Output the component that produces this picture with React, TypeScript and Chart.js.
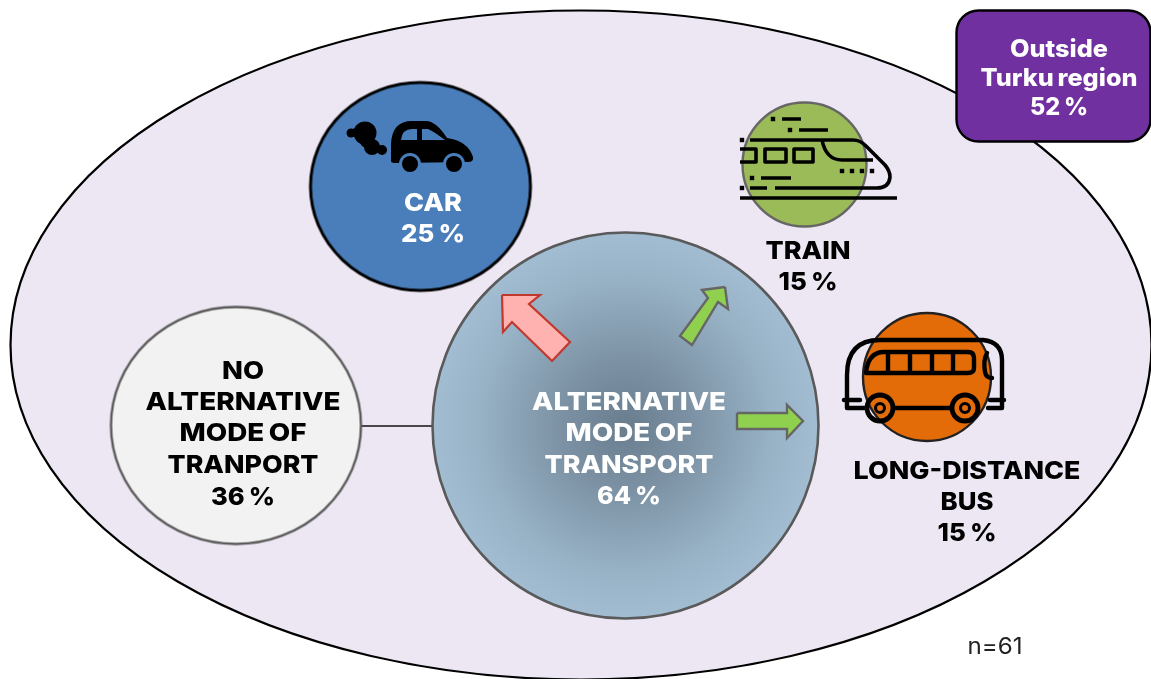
import React, { useEffect, useRef } from "react";
import { Chart, registerables } from "chart.js";

Chart.register(...registerables);

// ---- content
const modeNames = ["CAR", "TRAIN", "LONG-DISTANCE BUS"];
const modeShares = [25, 15, 15];
const alternativeShare = 64;
const noAlternativeShare = 36;
const outsideShare = 52;
const sampleSize = 61;

// ---- bubble centres and radii, in axis units
const bubbleIds = ["car", "train", "bus", "alternative", "none"];
const bubbleX = [420.5, 804.5, 927, 625.5, 236];
const bubbleY = [186.5, 164.5, 377, 425.5, 425.5];
const bubbleR = [110, 62, 64, 193, 125];
const bubbleSquash = [104 / 110, 1, 1, 1, 118.5 / 125];

// ---- arrows and connector, in axis units
const arrowCar = [
  [502, 295], [540, 295], [529, 304], [570, 342], [552, 361], [512, 322], [503, 332], [502, 295],
];
const arrowTrain = [
  [725, 287], [728, 309], [718, 302], [692, 345], [680, 336], [708, 298], [702, 290], [725, 287],
];
const arrowBus = [
  [737, 413], [787, 413], [787, 405], [803, 421], [787, 438], [787, 429], [737, 429], [737, 413],
];
const connector = [[361, 426], [432, 426]];

const toXY = (pts: number[][]) => pts.map(([x, y]) => ({ x, y }));

const INK = "#000000";
const FONT = "Inter, 'Open Sans', sans-serif";

type T = { t: string; x: number; y: number; w: number; c: string; s: number; wt?: number };
const W = "#ffffff";
const textRows: T[] = [
  { t: modeNames[0], x: 433, y: 202, w: 58, c: W, s: 25 },
  { t: `${modeShares[0]} %`, x: 433, y: 233, w: 64, c: W, s: 25 },
  { t: "ALTERNATIVE", x: 629, y: 401, w: 194, c: W, s: 25 },
  { t: "MODE OF", x: 629, y: 432, w: 127, c: W, s: 25 },
  { t: "TRANSPORT", x: 629, y: 464, w: 169, c: W, s: 25 },
  { t: `${alternativeShare} %`, x: 629, y: 495, w: 64, c: W, s: 25 },
  { t: "NO", x: 243, y: 370, w: 42, c: INK, s: 25 },
  { t: "ALTERNATIVE", x: 243, y: 401, w: 195, c: INK, s: 25 },
  { t: "MODE OF", x: 243, y: 432, w: 127, c: INK, s: 25 },
  { t: "TRANPORT", x: 243, y: 464, w: 151, c: INK, s: 25 },
  { t: `${noAlternativeShare} %`, x: 243, y: 496, w: 64, c: INK, s: 25 },
  { t: modeNames[1], x: 808, y: 250, w: 85, c: INK, s: 25 },
  { t: `${modeShares[1]} %`, x: 808, y: 281, w: 59, c: INK, s: 25 },
  { t: "LONG-DISTANCE", x: 967, y: 470, w: 227, c: INK, s: 25 },
  { t: "BUS", x: 967, y: 501, w: 53, c: INK, s: 25 },
  { t: `${modeShares[2]} %`, x: 967, y: 532, w: 59, c: INK, s: 25 },
  { t: "Outside", x: 1059, y: 49, w: 98, c: W, s: 24 },
  { t: "Turku region", x: 1059, y: 78, w: 157, c: W, s: 24 },
  { t: `${outsideShare} %`, x: 1059, y: 107, w: 58, c: W, s: 24 },
  { t: `n=${sampleSize}`, x: 995, y: 646, w: 55, c: "#222222", s: 23, wt: 400 },
];

function drawCar(c: CanvasRenderingContext2D) {
  const blue = "#4a7ebb";
  c.fillStyle = INK;
  for (const [x, y, r] of [[351, 133, 4.5], [356, 132, 4], [365, 133, 11.5], [372, 147, 8], [367, 141, 7], [382, 150, 5]]) {
    c.beginPath(); c.arc(x, y, r, 0, Math.PI * 2); c.fill();
  }
  const b = new Path2D("M391 161 L391 144 Q392 121 412 121 L426 121 Q436 121 447 138 Q468 141 473 157 Q474 162 468 162 L396 163 Q391 163 391 161 Z");
  c.fill(b);
  c.fillStyle = blue;
  c.fill(new Path2D("M401 140 Q402 129 412 129 L417 129 L417 140 Z"));
  c.fill(new Path2D("M422 129 L428 129 Q433 131 445 140 L422 140 Z"));
  for (const x of [410, 454]) {
    c.fillStyle = blue; c.beginPath(); c.arc(x, 164, 11, 0, Math.PI * 2); c.fill();
    c.fillStyle = INK; c.beginPath(); c.arc(x, 164, 8, 0, Math.PI * 2); c.fill();
  }
}

function drawTrain(c: CanvasRenderingContext2D) {
  c.strokeStyle = INK; c.fillStyle = INK; c.lineWidth = 3.6; c.lineCap = "butt"; c.lineJoin = "round";
  c.stroke(new Path2D(
    "M782 119 H801 M799 130 H828 M750 140 H853 Q860 140 866 146 L885 165 Q890 171 890 177 Q889 188 877 188 H775 " +
    "M750 188 H767 M822 140 Q826 160 842 160 H873 M740 149 H756 V162 H740 M765 149 H786 V162 H765 Z M794 149 H813 V162 H794 Z " +
    "M761 178 H791 M740 198 H897"
  ));
  for (const [x, y] of [[773, 119], [790, 130], [742, 140], [842, 171], [852, 171], [862, 171], [872, 171], [752, 178], [742, 188]]) {
    c.fillRect(x - 2.2, y - 2.2, 4.4, 4.4);
  }
}

function drawBus(c: CanvasRenderingContext2D) {
  c.strokeStyle = INK; c.lineWidth = 4.4; c.lineJoin = "round"; c.lineCap = "round";
  c.stroke(new Path2D(
    "M847 400 V375 Q847 340 880 340 H983 Q1002 342 1002 360 V408 H988 M847 400 V408 H864 M844 400 H860 M990 400 H1004 " +
    "M866 373 Q868 352 884 352 H968 Q974 352 974 358 V368 Q974 373 968 373 H866 Z " +
    "M888 352 V373 M910 352 V373 M932 352 V373 M953 352 V373 " +
    "M987 353 Q983 360 985 372 Q986 378 992 378 M895 408 H950"
  ));
  for (const x of [880, 965]) {
    c.lineWidth = 4.8; c.beginPath(); c.arc(x, 408, 13, 0, Math.PI * 2); c.stroke();
    c.lineWidth = 3; c.beginPath(); c.arc(x, 408, 4.5, 0, Math.PI * 2); c.stroke();
  }
}

// Ellipse-shaped point style for the slightly squashed bubbles.
function ellipseSprite(rx: number, ry: number, fill: string, stroke: string, lw: number) {
  const s = document.createElement("canvas");
  s.width = Math.ceil(rx * 2 + lw * 2 + 2);
  s.height = Math.ceil(ry * 2 + lw * 2 + 2);
  const c = s.getContext("2d")!;
  c.beginPath();
  c.ellipse(s.width / 2, s.height / 2, rx, ry, 0, 0, Math.PI * 2);
  c.fillStyle = fill; c.fill();
  c.strokeStyle = stroke; c.lineWidth = lw; c.stroke();
  return s;
}

const scenePlugin = {
  id: "scene",
  beforeDatasetsDraw(chart: any) {
    const c: CanvasRenderingContext2D = chart.ctx;
    const { x, y } = chart.scales;
    c.save();
    c.beginPath();
    c.ellipse(x.getPixelForValue(581), y.getPixelForValue(345), 570.5, 334.5, 0, 0, Math.PI * 2);
    c.fillStyle = "#ede7f3"; c.fill();
    c.strokeStyle = INK; c.lineWidth = 2.2; c.stroke();
    c.restore();
  },
  afterDatasetsDraw(chart: any) {
    const c: any = chart.ctx;
    const { x, y } = chart.scales;
    c.save();
    drawCar(c);
    drawTrain(c);
    drawBus(c);
    c.beginPath();
    c.roundRect(x.getPixelForValue(956.5), y.getPixelForValue(10.5), 194, 131, 22);
    c.fillStyle = "#7030a0"; c.fill();
    c.strokeStyle = INK; c.lineWidth = 2.4; c.stroke();
    c.textAlign = "center"; c.textBaseline = "middle";
    for (const r of textRows) {
      c.font = `${r.wt ?? 800} ${r.s}px ${FONT}`;
      c.wordSpacing = r.wt ? "0px" : "-1.5px";
      const m = c.measureText(r.t).width;
      c.save();
      c.translate(x.getPixelForValue(r.x), y.getPixelForValue(r.y));
      c.scale(r.w / m, 1);
      c.fillStyle = r.c;
      c.fillText(r.t, 0, 1);
      c.restore();
    }
    c.restore();
  },
};

export default function App() {
  const ref = useRef<HTMLCanvasElement>(null);
  useEffect(() => {
    document.body.style.margin = "0";
    const canvas = ref.current!;
    const ctx = canvas.getContext("2d")!;
    const grad = ctx.createRadialGradient(625.5, 425.5, 0, 625.5, 425.5, 193);
    grad.addColorStop(0, "#687e8f");
    grad.addColorStop(0.35, "#7d93a5");
    grad.addColorStop(0.75, "#97b1c5");
    grad.addColorStop(1, "#a2bdd2");
    const fills: any[] = ["#4a7ebb", "#9bbb59", "#e36c09", grad, "#f2f2f2"];
    const strokes = [INK, "#666666", "#222222", "#5a5a5a", "#595959"];
    const widths = [3, 2.4, 2.4, 2.6, 2.4];
    const bubble = (i: number) => ({
      type: "bubble" as const,
      label: bubbleIds[i],
      data: [{ x: bubbleX[i], y: bubbleY[i], r: bubbleR[i] }],
      backgroundColor: fills[i],
      borderColor: strokes[i],
      borderWidth: widths[i],
      pointStyle:
        bubbleSquash[i] === 1
          ? "circle"
          : ellipseSprite(bubbleR[i], bubbleR[i] * bubbleSquash[i], fills[i], strokes[i], widths[i]),
      order: 2,
      clip: false,
    });
    const poly = (label: string, pts: number[][], fill: string, stroke: string, lw: number) => ({
      type: "scatter" as const,
      label,
      data: toXY(pts),
      showLine: true,
      fill: "shape",
      backgroundColor: fill,
      borderColor: stroke,
      borderWidth: lw,
      pointRadius: 0,
      order: 1,
      clip: false,
    });
    const chart = new Chart(canvas, {
      type: "bubble",
      data: {
        datasets: [
          bubble(0), bubble(1), bubble(2), bubble(3), bubble(4),
          poly("to car", arrowCar, "#ffb2b0", "#c0392f", 2.2),
          poly("to train", arrowTrain, "#8fd14f", "#666666", 2.4),
          poly("to bus", arrowBus, "#8fd14f", "#666666", 2.4),
          { type: "scatter", label: "link", data: toXY(connector), showLine: true, fill: false, borderColor: "#111111", borderWidth: 1.3, pointRadius: 0, order: 3 },
        ] as any,
      },
      options: {
        animation: false,
        responsive: false,
        events: [],
        layout: { padding: 0, autoPadding: false },
        plugins: { legend: { display: false }, tooltip: { enabled: false } },
        scales: {
          x: { type: "linear", display: false, min: 0, max: 1151 },
          y: { type: "linear", display: false, min: 0, max: 679, reverse: true },
        },
      },
      plugins: [scenePlugin],
    });
    return () => chart.destroy();
  }, []);
  return <canvas ref={ref} width={1151} height={679} style={{ display: "block" }} />;
}
